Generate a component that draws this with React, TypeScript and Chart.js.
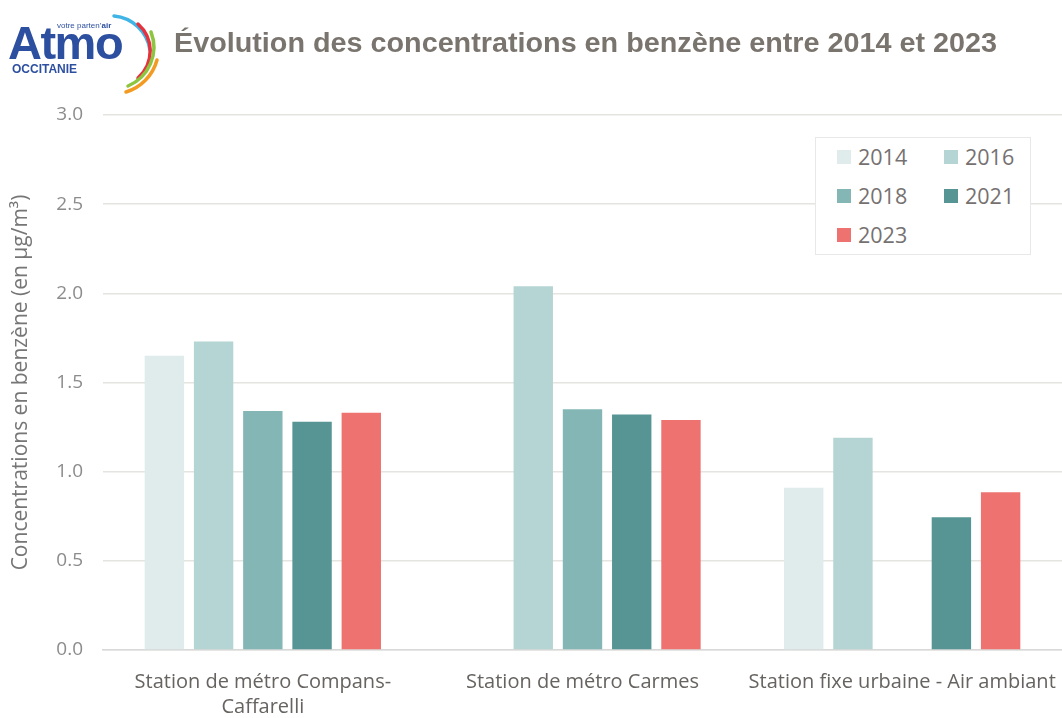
import React, { useEffect, useLayoutEffect, useRef } from "react";
import { Chart, registerables } from "chart.js";
Chart.register(...registerables);

const categories: (string | string[])[] = [
  ["Station de métro Compans-", "Caffarelli"],
  "Station de métro Carmes",
  "Station fixe urbaine - Air ambiant",
];
const years = ["2014", "2016", "2018", "2021", "2023"];
const colors = ["#dfeceb", "#b5d5d4", "#84b6b6", "#569593", "#ee7370"];
const v2014 = [1.65, null, 0.91];
const v2016 = [1.73, 2.04, 1.19];
const v2018 = [1.34, 1.35, null];
const v2021 = [1.28, 1.32, 0.745];
const v2023 = [1.33, 1.29, 0.885];
const series = [v2014, v2016, v2018, v2021, v2023];
const yMin = 0;
const yMax = 3;
const yStep = 0.5;

const title = "Évolution des concentrations en benzène entre 2014 et 2023";
const yTitle = "Concentrations en benzène (en µg/m³)";

const sans = "'Open Sans', 'Noto Sans', sans-serif";

export default function App() {
  const ref = useRef<HTMLCanvasElement | null>(null);
  const titleRef = useRef<HTMLSpanElement | null>(null);

  useLayoutEffect(() => {
    const el = titleRef.current;
    if (!el) return;
    el.style.transform = "none";
    const w = el.getBoundingClientRect().width;
    if (w > 0) el.style.transform = `scaleX(${823 / w})`;
  }, []);

  useEffect(() => {
    if (!ref.current) return;
    const chart = new Chart(ref.current, {
      type: "bar",
      data: {
        labels: categories as any,
        datasets: years.map((y, i) => ({
          label: y,
          data: series[i] as any,
          backgroundColor: colors[i],
          borderWidth: 0,
          categoryPercentage: 0.77,
          barPercentage: 0.8,
        })),
      },
      options: {
        animation: false,
        responsive: false,
        maintainAspectRatio: false,
        layout: { autoPadding: false, padding: { top: 115, left: 0, right: 0, bottom: 0 } },
        plugins: {
          legend: { display: false },
          tooltip: { enabled: false },
        },
        scales: {
          x: {
            grid: { display: false, drawTicks: false },
            border: { display: true, color: "#d9d9d9", width: 1.5 },
            ticks: {
              color: "#666360",
              font: { family: sans, size: 20, lineHeight: 1.25 },
              padding: 20,
              maxRotation: 0,
              autoSkip: false,
            },
            afterFit: (s: any) => {
              s.height = 68;
              s.paddingLeft = 0;
              s.paddingRight = 0;
            },
          },
          y: {
            min: yMin,
            max: yMax,
            grid: { color: "#e4e4e0", lineWidth: 1.5, drawTicks: false },
            border: { display: false },
            ticks: {
              stepSize: yStep,
              color: "#8c8c8c",
              font: { family: sans, size: 19 },
              padding: 20,
              callback: (v: any) => Number(v).toFixed(1),
            },
            title: {
              display: true,
              text: yTitle,
              color: "#767676",
              font: { family: sans, size: 21, lineHeight: 1.2 },
              padding: { top: 8, bottom: 0 },
            },
            afterFit: (s: any) => {
              s.width = 103;
              s.paddingTop = 0;
              s.paddingBottom = 0;
            },
          },
        },
      },
    });
    return () => chart.destroy();
  }, []);

  const legendItems = years.map((y, i) => ({
    y,
    c: colors[i],
    col: i % 2,
    row: Math.floor(i / 2),
  }));

  return (
    <div
      style={{
        position: "fixed",
        left: 0,
        top: 0,
        width: 1062,
        height: 718,
        background: "#fff",
        overflow: "hidden",
      }}
    >
      <canvas ref={ref} width={1062} height={718} style={{ display: "block" }} />
      {/* Logo */}
      <div style={{ position: "absolute", left: 0, top: 0, width: 170, height: 100 }}>
        <svg width={170} height={100} style={{ position: "absolute", left: 0, top: 0 }}>
          <path d="M 114 16 A 40 40 0 0 1 150 50" stroke="#3fb4e5" strokeWidth={3.5} fill="none" strokeLinecap="round" />
          <path d="M 138 24 A 36 36 0 0 1 138 78" stroke="#e4323f" strokeWidth={3.5} fill="none" strokeLinecap="round" />
          <path d="M 151 32 A 42 42 0 0 1 128 86" stroke="#8dc540" strokeWidth={3.5} fill="none" strokeLinecap="round" />
          <path d="M 157 60 A 46 46 0 0 1 126 92" stroke="#f29a22" strokeWidth={3.5} fill="none" strokeLinecap="round" />
        </svg>
        <div
          style={{
            position: "absolute",
            left: 57,
            top: 21,
            fontFamily: "'Liberation Sans', Arial, sans-serif",
            fontSize: 8,
            color: "#2d4fa0",
            whiteSpace: "nowrap",
            lineHeight: "9px",
          }}
        >
          votre parten’<b>air</b>
        </div>
        <div
          style={{
            position: "absolute",
            left: 8,
            top: 17,
            fontFamily: "'Liberation Sans', Arial, sans-serif",
            fontWeight: 700,
            fontSize: 47,
            letterSpacing: -1.5,
            color: "#2d4fa0",
            lineHeight: "52px",
            whiteSpace: "nowrap",
          }}
        >
          Atmo
        </div>
        <div
          style={{
            position: "absolute",
            left: 12,
            top: 63,
            fontFamily: "'Liberation Sans', Arial, sans-serif",
            fontWeight: 700,
            fontSize: 12,
            color: "#2d4fa0",
            whiteSpace: "nowrap",
            lineHeight: "12px",
          }}
        >
          OCCITANIE
        </div>
      </div>
      {/* Title */}
      <div
        style={{
          position: "absolute",
          left: 174,
          top: 29,
          whiteSpace: "nowrap",
        }}
      >
        <span
          ref={titleRef}
          style={{
            display: "inline-block",
            transformOrigin: "0 0",
            fontFamily: "'Liberation Sans', Arial, sans-serif",
            fontWeight: 700,
            fontSize: 28,
            color: "#7a746e",
            lineHeight: "28px",
          }}
        >
          {title}
        </span>
      </div>
      {/* Legend */}
      <div
        style={{
          position: "absolute",
          left: 815,
          top: 137,
          width: 214,
          height: 116,
          border: "1px solid #e8e8e8",
          background: "#fff",
        }}
      >
        {legendItems.map((it) => (
          <div
            key={it.y}
            style={{
              position: "absolute",
              left: 21 + it.col * 107,
              top: 19 + it.row * 39 - 13,
              height: 26,
              display: "flex",
              alignItems: "center",
              whiteSpace: "nowrap",
            }}
          >
            <span style={{ width: 14, height: 14, background: it.c, display: "inline-block", marginRight: 7 }} />
            <span style={{ fontFamily: sans, fontSize: 21.5, color: "#767171", lineHeight: "26px" }}>{it.y}</span>
          </div>
        ))}
      </div>
    </div>
  );
}
